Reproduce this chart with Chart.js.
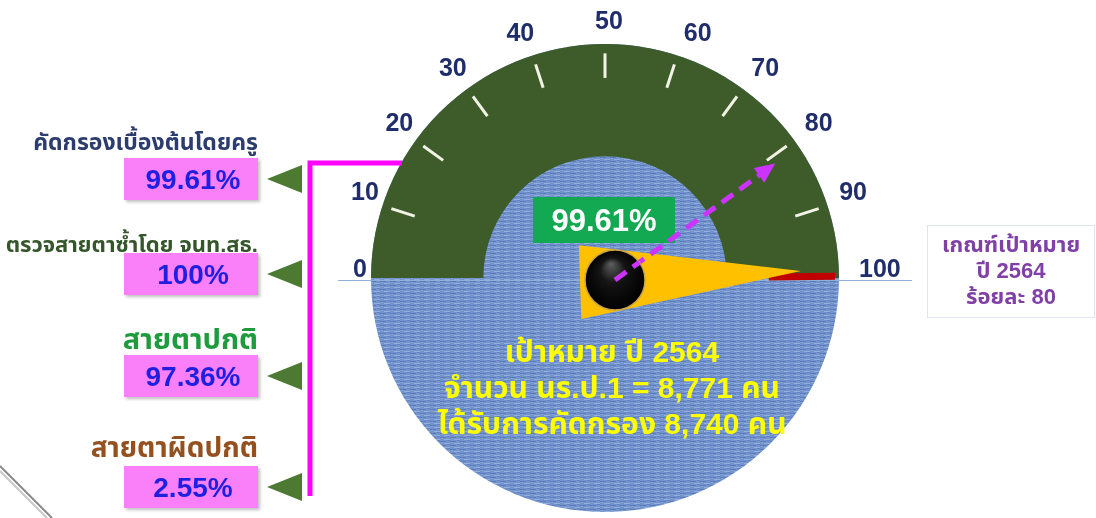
<!DOCTYPE html>
<html><head><meta charset="utf-8">
<script src="https://cdn.jsdelivr.net/npm/chart.js@4.4.1/dist/chart.umd.min.js"></script>
<style>
html,body{margin:0;padding:0;background:#fff;width:1096px;height:518px;overflow:hidden;font-family:"Liberation Sans","Noto Sans Thai","Noto Sans",sans-serif;}
#wrap{position:relative;width:1096px;height:518px;}
#gauge{position:absolute;left:0;top:0;}
.lbl{position:absolute;right:838px;font-weight:bold;white-space:nowrap;text-align:right;transform:translateY(-50%);}
.box{position:absolute;left:124px;width:134px;height:42px;background:#fa80fa;color:#1f1fe0;font-weight:bold;font-size:28px;line-height:43px;text-align:center;box-sizing:border-box;padding-left:4px;box-shadow:2px 2px 3px rgba(0,0,0,0.25);}
#target{position:absolute;left:927px;top:225px;width:168px;height:93px;box-sizing:border-box;border:1px solid #dfe4ef;color:#8040a8;font-weight:bold;font-size:22px;line-height:26px;text-align:center;padding-top:6px;}
#summary{position:absolute;left:362px;width:500px;top:334px;color:#ffff00;font-weight:bold;font-size:30px;line-height:36px;text-align:center;}
</style>
</head><body>
<div id="wrap">
<canvas id="gauge" width="1096" height="518"></canvas>
<div id="left"></div>
<div id="target"></div>
<div id="summary"></div>
</div>
<script>
// ---- data ----
const tickValues = [0, 10, 20, 30, 40, 50, 60, 70, 80, 90, 100];
const gaugeMax = 100;
const gaugeValue = 99.61;
const targetValue = 80;
const metricLabels = ['คัดกรองเบื้องต้นโดยครู', 'ตรวจสายตาซ้ำโดย จนท.สธ.', 'สายตาปกติ', 'สายตาผิดปกติ'];
const metricValues = [99.61, 100, 97.36, 2.55];
const targetLines = ['เกณฑ์เป้าหมาย', 'ปี 2564', 'ร้อยละ 80'];
const summaryLines = ['เป้าหมาย ปี 2564', 'จำนวน นร.ป.1 = 8,771 คน', 'ได้รับการคัดกรอง 8,740 คน'];

// ---- layout / style (not data) ----
const labelColors = ['#2c3c6e', '#35562a', '#1e9b3c', '#94501f'];
const labelSizes = [23, 22, 29, 28];
const labelY = [143, 245, 340, 448];
const boxTop = [158, 253, 355, 466];
const FONT = '"Liberation Sans", Arial, sans-serif';

const left = document.getElementById('left');
metricLabels.forEach((t, i) => {
  const d = document.createElement('div');
  d.className = 'lbl';
  d.style.top = labelY[i] + 'px';
  d.style.color = labelColors[i];
  d.style.fontSize = labelSizes[i] + 'px';
  d.textContent = t;
  left.appendChild(d);
  const b = document.createElement('div');
  b.className = 'box';
  b.style.top = boxTop[i] + 'px';
  b.textContent = metricValues[i] + '%';
  left.appendChild(b);
});
document.getElementById('target').innerHTML = targetLines.map(s => '<div>' + s + '</div>').join('');
document.getElementById('summary').innerHTML = summaryLines.map(s => '<div>' + s + '</div>').join('');

function makePattern(ctx) {
  const c = document.createElement('canvas');
  c.width = 10; c.height = 4;
  const g = c.getContext('2d');
  g.fillStyle = '#7393cd'; g.fillRect(0, 0, 10, 4);
  g.fillStyle = '#5a7bbb'; g.fillRect(0, 1, 6, 1);
  g.fillStyle = '#93aedd'; g.fillRect(4, 3, 6, 1);
  g.fillStyle = '#6483c2'; g.fillRect(7, 0, 3, 1);
  g.fillStyle = '#88a5d8'; g.fillRect(1, 2, 2, 1);
  return ctx.createPattern(c, 'repeat');
}

const valAngle = v => Math.PI + (v / gaugeMax) * Math.PI;

const gaugePlugin = {
  id: 'gaugeDecor',
  beforeDatasetsDraw(chart) {
    const ctx = chart.ctx;
    const arc = chart.getDatasetMeta(0).data[0];
    const cx = arc.x, cy = arc.y, R = arc.outerRadius;
    ctx.save();
    ctx.strokeStyle = '#8a8a8a'; ctx.lineWidth = 2;
    ctx.beginPath(); ctx.moveTo(0, 466); ctx.lineTo(52, 518); ctx.stroke();
    ctx.strokeStyle = '#c8c8c8'; ctx.lineWidth = 2;
    ctx.beginPath(); ctx.moveTo(0, 471); ctx.lineTo(47, 518); ctx.stroke();
    ctx.fillStyle = makePattern(ctx);
    ctx.beginPath(); ctx.arc(cx, cy, R, 0, Math.PI * 2); ctx.fill();
    ctx.restore();
  },
  afterDatasetsDraw(chart) {
    const ctx = chart.ctx;
    const arc = chart.getDatasetMeta(0).data[0];
    const cx = arc.x, cy = arc.y, R = arc.outerRadius;
    ctx.save();
    ctx.strokeStyle = '#8fb0d8'; ctx.lineWidth = 1;
    ctx.beginPath(); ctx.moveTo(338, cy + 2.5); ctx.lineTo(912, cy + 2.5); ctx.stroke();
    tickValues.forEach(v => {
      const a = valAngle(v);
      const c = Math.cos(a), s = Math.sin(a);
      if (v > 0 && v < gaugeMax) {
        ctx.strokeStyle = '#f2f2e6'; ctx.lineWidth = 3;
        ctx.beginPath();
        ctx.moveTo(cx + c * R * 0.855, cy + s * R * 0.855);
        ctx.lineTo(cx + c * R * 0.96, cy + s * R * 0.96);
        ctx.stroke();
      }
      const x = cx + c * (R + 8) + (v === gaugeMax ? 12 : 4);
      const y = cy + s * (R + 14) - 8;
      ctx.fillStyle = '#1f2d6b';
      ctx.font = 'bold 25px ' + FONT;
      ctx.textBaseline = 'middle';
      ctx.textAlign = c < -0.15 ? 'right' : (c > 0.15 ? 'left' : 'center');
      ctx.fillText(String(v), x, y);
    });
    ctx.strokeStyle = '#ff00ff'; ctx.lineWidth = 5;
    ctx.beginPath(); ctx.moveTo(402, 163); ctx.lineTo(310, 163); ctx.lineTo(310, 496); ctx.stroke();
    ctx.fillStyle = '#4d7a33';
    boxTop.forEach(t => {
      const ym = t + 21;
      ctx.beginPath(); ctx.moveTo(267, ym); ctx.lineTo(302, ym - 14); ctx.lineTo(302, ym + 14); ctx.closePath(); ctx.fill();
    });
    const av = valAngle(gaugeValue);
    ctx.strokeStyle = '#c00000'; ctx.lineWidth = 7; ctx.lineCap = 'butt';
    ctx.beginPath();
    ctx.moveTo(cx + Math.cos(av) * R * 0.70, cy + Math.sin(av) * R * 0.70 + 1);
    ctx.lineTo(cx + Math.cos(av) * (R - 4), cy + Math.sin(av) * (R - 4) + 1);
    ctx.stroke();
    const kx = cx + 10, ky = cy + 2;
    ctx.save();
    ctx.translate(kx, ky); ctx.rotate(av - 2 * Math.PI - 0.02);
    ctx.fillStyle = '#ffc000';
    ctx.beginPath(); ctx.moveTo(-35, -36); ctx.lineTo(186, -3); ctx.lineTo(-35, 38); ctx.closePath(); ctx.fill();
    ctx.restore();
    ctx.fillStyle = '#13a852';
    ctx.fillRect(cx - 72, 197, 142, 46);
    ctx.fillStyle = '#ffffff';
    ctx.font = 'bold 31px ' + FONT;
    ctx.textAlign = 'center'; ctx.textBaseline = 'middle';
    ctx.fillText(gaugeValue + '%', cx - 1, 222);
    const at = valAngle(targetValue);
    const L = 198, head = 20;
    const ux = Math.cos(at), uy = Math.sin(at);
    ctx.strokeStyle = '#cc33ff'; ctx.lineWidth = 5; ctx.setLineDash([14, 8]);
    ctx.beginPath(); ctx.moveTo(kx, ky); ctx.lineTo(kx + ux * (L - head), ky + uy * (L - head)); ctx.stroke();
    ctx.setLineDash([]);
    ctx.fillStyle = '#cc33ff';
    const tx = kx + ux * L, ty = ky + uy * L;
    const bx = kx + ux * (L - head), by = ky + uy * (L - head);
    ctx.beginPath(); ctx.moveTo(tx, ty); ctx.lineTo(bx - uy * 9, by + ux * 9); ctx.lineTo(bx + uy * 9, by - ux * 9); ctx.closePath(); ctx.fill();
    const g = ctx.createRadialGradient(kx - 4, ky - 16, 1, kx, ky, 30);
    g.addColorStop(0, '#5a5a5a'); g.addColorStop(0.4, '#141414'); g.addColorStop(1, '#000');
    ctx.fillStyle = g;
    ctx.beginPath(); ctx.arc(kx, ky, 30, 0, Math.PI * 2); ctx.fill();
    ctx.strokeStyle = '#c9a24a'; ctx.lineWidth = 1.5; ctx.stroke();
    ctx.strokeStyle = '#cc33ff'; ctx.lineWidth = 5; ctx.setLineDash([14, 8]);
    ctx.beginPath(); ctx.moveTo(kx, ky); ctx.lineTo(kx + ux * 30, ky + uy * 30); ctx.stroke();
    ctx.restore();
  }
};

new Chart(document.getElementById('gauge').getContext('2d'), {
  type: 'doughnut',
  data: { labels: ['gauge'], datasets: [{ data: [gaugeMax], backgroundColor: '#3e5c2a', borderWidth: 0 }] },
  options: {
    responsive: false, animation: false, devicePixelRatio: 1,
    rotation: -90, circumference: 180, cutout: '52%',
    layout: { padding: { left: 371, top: 44, right: 257, bottom: 240 } },
    plugins: { legend: { display: false }, tooltip: { enabled: false } },
    events: []
  },
  plugins: [gaugePlugin]
});
</script>
</body></html>
